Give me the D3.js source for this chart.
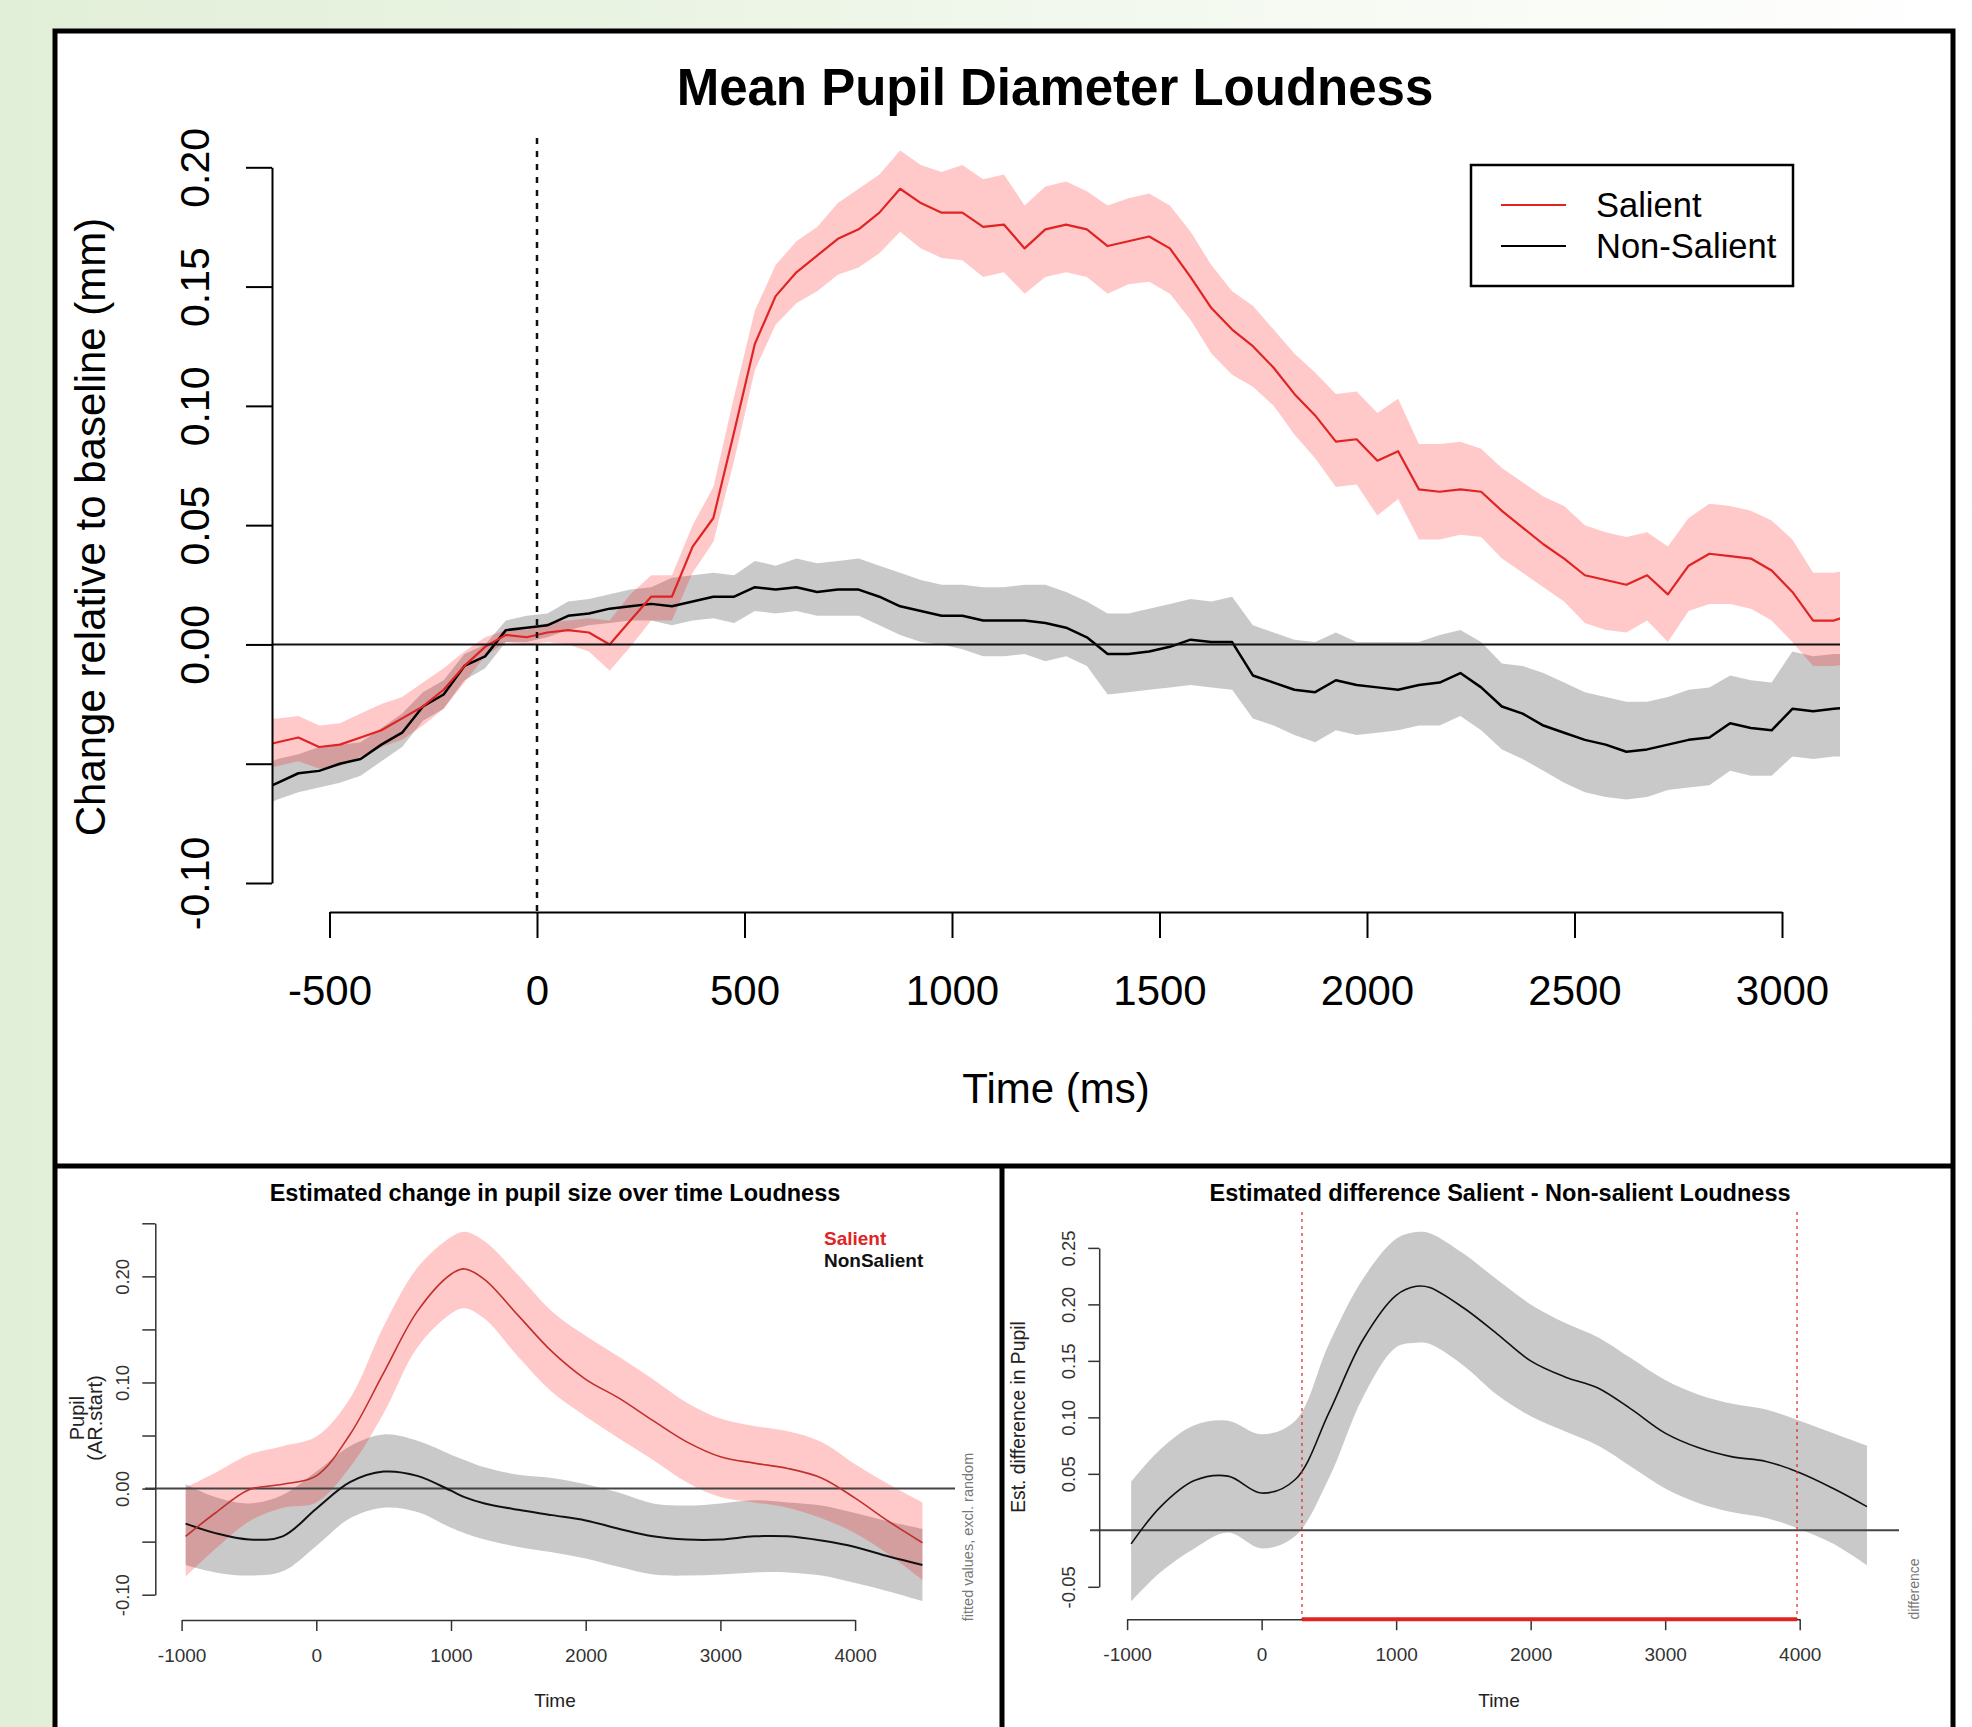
<!DOCTYPE html>
<html>
<head>
<meta charset="utf-8">
<script src="https://cdn.jsdelivr.net/npm/d3@7"></script>
<style>
  html, body { margin: 0; padding: 0; }
  body {
    width: 1972px; height: 1727px; overflow: hidden;
    background: linear-gradient(to right, #e2efd8 0%, #e9f3e2 30%, #f4f9f0 60%, #ffffff 100%);
  }
  svg { display: block; font-family: "Liberation Sans", Arial, Helvetica, sans-serif; }
</style>
</head>
<body>
<svg id="fig" width="1972" height="1727"></svg>
<script>
// ---------- top panel: mean pupil traces (mm), sampled every 50 ms ----------
// first and last samples sit just outside the visible window (clipped)
const topTime = [-650].concat(d3.range(-625, 3126, 50), [3175]);
const salientMean = [-0.042,
  -0.041, -0.039, -0.043, -0.042, -0.039, -0.036, -0.031, -0.026, -0.019, -0.009, -0.001, 0.004, 0.003, 0.005, 0.006, 0.005, 0.000, 0.010, 0.020,
  0.020, 0.041, 0.053, 0.089, 0.126, 0.146, 0.156, 0.163, 0.170, 0.174, 0.181, 0.191, 0.185, 0.181, 0.181, 0.175, 0.176, 0.166, 0.174,
  0.176, 0.174, 0.167, 0.169, 0.171, 0.166, 0.154, 0.141, 0.132, 0.125, 0.116, 0.105, 0.096, 0.085, 0.086, 0.077, 0.081, 0.065, 0.064,
  0.065, 0.064, 0.056, 0.049, 0.042, 0.036, 0.029, 0.027, 0.025, 0.029, 0.021, 0.033, 0.038, 0.037, 0.036, 0.031, 0.022, 0.010, 0.010,
  0.013];
const salientHi = [-0.031,
  -0.031, -0.030, -0.034, -0.033, -0.029, -0.025, -0.022, -0.016, -0.010, -0.003, 0.003, 0.006, 0.006, 0.009, 0.010, 0.011, 0.010, 0.021, 0.029,
  0.029, 0.050, 0.066, 0.104, 0.140, 0.159, 0.169, 0.175, 0.185, 0.191, 0.197, 0.207, 0.201, 0.198, 0.201, 0.195, 0.197, 0.184, 0.192,
  0.194, 0.190, 0.184, 0.187, 0.189, 0.184, 0.173, 0.159, 0.148, 0.142, 0.132, 0.122, 0.114, 0.105, 0.106, 0.097, 0.103, 0.084, 0.084,
  0.085, 0.082, 0.074, 0.068, 0.062, 0.058, 0.050, 0.047, 0.045, 0.047, 0.041, 0.053, 0.059, 0.058, 0.056, 0.052, 0.044, 0.030, 0.030,
  0.032];
const salientLo = [-0.052,
  -0.051, -0.049, -0.052, -0.051, -0.047, -0.043, -0.040, -0.034, -0.027, -0.016, -0.005, 0.001, 0.000, 0.001, 0.000, -0.003, -0.011, -0.001, 0.010,
  0.010, 0.030, 0.043, 0.077, 0.115, 0.134, 0.143, 0.148, 0.155, 0.158, 0.164, 0.173, 0.166, 0.162, 0.161, 0.154, 0.156, 0.147, 0.154,
  0.156, 0.154, 0.147, 0.151, 0.152, 0.147, 0.136, 0.122, 0.113, 0.108, 0.100, 0.088, 0.078, 0.066, 0.067, 0.054, 0.061, 0.044, 0.044,
  0.046, 0.045, 0.036, 0.030, 0.024, 0.018, 0.009, 0.006, 0.005, 0.010, 0.001, 0.014, 0.017, 0.017, 0.015, 0.010, 0.001, -0.009, -0.009,
  -0.008];
const nonSalientMean = [-0.060,
  -0.058, -0.054, -0.053, -0.050, -0.048, -0.042, -0.037, -0.026, -0.021, -0.009, -0.005, 0.006, 0.007, 0.008, 0.012, 0.013, 0.015, 0.016, 0.017,
  0.016, 0.018, 0.020, 0.020, 0.024, 0.023, 0.024, 0.022, 0.023, 0.023, 0.020, 0.016, 0.014, 0.012, 0.012, 0.010, 0.010, 0.010, 0.009,
  0.007, 0.003, -0.004, -0.004, -0.003, -0.001, 0.002, 0.001, 0.001, -0.013, -0.016, -0.019, -0.020, -0.015, -0.017, -0.018, -0.019, -0.017, -0.016,
  -0.012, -0.018, -0.026, -0.029, -0.034, -0.037, -0.040, -0.042, -0.045, -0.044, -0.042, -0.040, -0.039, -0.033, -0.035, -0.036, -0.027, -0.028, -0.027,
  -0.026];
const nonSalientHi = [-0.050,
  -0.048, -0.046, -0.043, -0.042, -0.041, -0.035, -0.029, -0.020, -0.015, -0.004, 0.000, 0.010, 0.012, 0.013, 0.018, 0.019, 0.021, 0.023, 0.024,
  0.028, 0.029, 0.030, 0.029, 0.035, 0.033, 0.036, 0.034, 0.035, 0.036, 0.033, 0.030, 0.027, 0.025, 0.025, 0.024, 0.024, 0.025, 0.025,
  0.022, 0.018, 0.013, 0.013, 0.015, 0.017, 0.019, 0.018, 0.020, 0.008, 0.005, 0.002, 0.001, 0.005, 0.001, 0.001, 0.001, 0.001, 0.004,
  0.006, 0.001, -0.008, -0.009, -0.012, -0.016, -0.020, -0.022, -0.024, -0.024, -0.022, -0.019, -0.018, -0.013, -0.015, -0.016, -0.003, -0.005, -0.004,
  -0.004];
const nonSalientLo = [-0.067,
  -0.065, -0.062, -0.060, -0.058, -0.055, -0.049, -0.043, -0.032, -0.027, -0.015, -0.010, 0.001, 0.001, 0.003, 0.006, 0.008, 0.009, 0.010, 0.010,
  0.008, 0.010, 0.011, 0.009, 0.014, 0.013, 0.014, 0.012, 0.012, 0.012, 0.008, 0.004, 0.001, 0.000, -0.002, -0.005, -0.005, -0.004, -0.007,
  -0.005, -0.009, -0.021, -0.020, -0.019, -0.018, -0.017, -0.018, -0.019, -0.031, -0.034, -0.038, -0.041, -0.036, -0.038, -0.037, -0.036, -0.034, -0.034,
  -0.030, -0.036, -0.044, -0.048, -0.053, -0.058, -0.062, -0.064, -0.065, -0.064, -0.061, -0.060, -0.059, -0.053, -0.055, -0.055, -0.047, -0.048, -0.047,
  -0.047];
const topXTicks = [-500, 0, 500, 1000, 1500, 2000, 2500, 3000];
const topYTicks = [-0.10, -0.05, 0.00, 0.05, 0.10, 0.15, 0.20];
const topYLabelled = [-0.10, 0.00, 0.05, 0.10, 0.15, 0.20];
const legendLabels = ["Salient", "Non-Salient"];

// ---------- bottom left: GAM fitted curves ----------
const gamTime = [-970, -750, -500, -250, 0, 250, 500, 750, 1000, 1100, 1250, 1500, 1750, 2000, 2250, 2500, 2750, 3000, 3250, 3500, 3750, 4000, 4250, 4500];
const gamSalient   = [-0.045, -0.023, -0.001, 0.004, 0.012, 0.051, 0.109, 0.167, 0.202, 0.207, 0.197, 0.163, 0.129, 0.103, 0.085, 0.064, 0.044, 0.030, 0.024, 0.019, 0.010, -0.009, -0.031, -0.051];
const gamSalientHi = [0.001, 0.015, 0.032, 0.040, 0.049, 0.085, 0.153, 0.208, 0.237, 0.242, 0.233, 0.201, 0.167, 0.144, 0.124, 0.103, 0.081, 0.066, 0.059, 0.054, 0.044, 0.023, 0.004, -0.013];
const gamSalientLo = [-0.083, -0.057, -0.031, -0.018, -0.013, 0.020, 0.071, 0.133, 0.165, 0.170, 0.160, 0.124, 0.091, 0.068, 0.047, 0.027, 0.006, -0.008, -0.013, -0.018, -0.028, -0.042, -0.062, -0.086];
const gamNon   = [-0.033, -0.042, -0.048, -0.045, -0.019, 0.006, 0.016, 0.012, -0.002, -0.008, -0.014, -0.020, -0.025, -0.030, -0.038, -0.045, -0.048, -0.048, -0.045, -0.045, -0.049, -0.055, -0.064, -0.072];
const gamNonHi = [0.004, -0.008, -0.014, -0.006, 0.016, 0.040, 0.051, 0.045, 0.032, 0.027, 0.020, 0.013, 0.010, 0.004, -0.004, -0.014, -0.016, -0.014, -0.011, -0.013, -0.016, -0.023, -0.031, -0.038];
const gamNonLo = [-0.072, -0.079, -0.082, -0.078, -0.054, -0.028, -0.018, -0.022, -0.037, -0.042, -0.048, -0.055, -0.060, -0.066, -0.074, -0.081, -0.082, -0.081, -0.079, -0.079, -0.082, -0.089, -0.097, -0.106];
const gamXTicks = [-1000, 0, 1000, 2000, 3000, 4000];
const gamYTicks = [-0.10, -0.05, 0.00, 0.05, 0.10, 0.15, 0.20, 0.25];
const gamYLabelled = [-0.10, 0.00, 0.10, 0.20];

// ---------- bottom right: estimated difference ----------
const diffTime = [-970, -750, -500, -250, 0, 250, 500, 750, 1000, 1150, 1250, 1500, 1750, 2000, 2250, 2500, 2750, 3000, 3250, 3500, 3750, 4000, 4250, 4500];
const diffMean = [-0.012, 0.021, 0.044, 0.048, 0.033, 0.045, 0.104, 0.168, 0.208, 0.216, 0.215, 0.197, 0.174, 0.150, 0.136, 0.126, 0.107, 0.086, 0.073, 0.065, 0.061, 0.051, 0.037, 0.021];
const diffHi   = [0.043, 0.072, 0.093, 0.097, 0.085, 0.097, 0.165, 0.222, 0.258, 0.264, 0.263, 0.245, 0.222, 0.200, 0.184, 0.171, 0.152, 0.133, 0.120, 0.112, 0.107, 0.097, 0.086, 0.075];
const diffLo   = [-0.063, -0.037, -0.016, -0.002, -0.016, -0.005, 0.046, 0.117, 0.162, 0.166, 0.165, 0.146, 0.120, 0.101, 0.088, 0.075, 0.056, 0.037, 0.024, 0.016, 0.011, 0.001, -0.012, -0.031];
const sigWindow = [300, 3980];
const diffYTicks = [-0.05, 0.05, 0.10, 0.15, 0.20, 0.25];

// ---------- helpers ----------
const RED = "#e02424";
const inList = (list, v) => list.some(u => Math.abs(u - v) < 1e-9);

const bandPath = (x, y, t, lo, hi, curve) => d3.area()
  .x((d, i) => x(t[i])).y0((d, i) => y(lo[i])).y1((d, i) => y(hi[i]))
  .curve(curve)(t);
const linePath = (x, y, t, v, curve) => d3.line()
  .x((d, i) => x(t[i])).y((d, i) => y(v[i]))
  .curve(curve)(t);

function styleAxis(g, size, color, width) {
  g.attr("font-family", null).attr("font-size", size).attr("color", color);
  g.selectAll("path.domain, .tick line").attr("stroke-width", width);
}
function rotateYLabels(g, dist) {
  g.selectAll(".tick text")
    .attr("transform", "rotate(-90)")
    .attr("x", 0).attr("y", -dist).attr("dy", 0)
    .attr("text-anchor", "middle");
}

const svg = d3.select("#fig");

// frame
svg.append("rect").attr("x", 55).attr("y", 31).attr("width", 1898).attr("height", 1760)
  .attr("fill", "#fff").attr("stroke", "#000").attr("stroke-width", 5);

// ================= TOP PANEL =================
const plotTop = { left: 272, right: 1840, top: 138, bottom: 912 };
const xTop = d3.scaleLinear().domain([-500, 3000]).range([329.5, 1782]);
const yTop = d3.scaleLinear().domain([-0.1, 0.2]).range([883, 167.3]);

svg.append("clipPath").attr("id", "clipTop").append("rect")
  .attr("x", plotTop.left).attr("y", plotTop.top)
  .attr("width", plotTop.right - plotTop.left).attr("height", plotTop.bottom - plotTop.top);

const gTop = svg.append("g").attr("clip-path", "url(#clipTop)");
gTop.append("path").attr("d", bandPath(xTop, yTop, topTime, nonSalientLo, nonSalientHi, d3.curveLinear))
  .attr("fill", "#000").attr("fill-opacity", 0.21);
gTop.append("path").attr("d", bandPath(xTop, yTop, topTime, salientLo, salientHi, d3.curveLinear))
  .attr("fill", "#ff0000").attr("fill-opacity", 0.21);

// zero line and stimulus onset
svg.append("line").attr("x1", plotTop.left).attr("x2", plotTop.right)
  .attr("y1", yTop(0)).attr("y2", yTop(0)).attr("stroke", "#111").attr("stroke-width", 2);
svg.append("line").attr("x1", xTop(0)).attr("x2", xTop(0))
  .attr("y1", plotTop.top).attr("y2", plotTop.bottom)
  .attr("stroke", "#111").attr("stroke-width", 2.5).attr("stroke-dasharray", "6,7");

gTop.append("path").attr("d", linePath(xTop, yTop, topTime, nonSalientMean, d3.curveLinear))
  .attr("fill", "none").attr("stroke", "#000").attr("stroke-width", 2.5).attr("stroke-linejoin", "round");
gTop.append("path").attr("d", linePath(xTop, yTop, topTime, salientMean, d3.curveLinear))
  .attr("fill", "none").attr("stroke", RED).attr("stroke-width", 2.2).attr("stroke-linejoin", "round");

svg.append("g").attr("transform", `translate(${plotTop.left},0)`)
  .call(d3.axisLeft(yTop).tickValues(topYTicks).tickSize(26).tickSizeOuter(0)
    .tickFormat(d => inList(topYLabelled, d) ? d.toFixed(2) : ""))
  .call(g => styleAxis(g, 41, "#000", 2))
  .call(g => rotateYLabels(g, 63));

svg.append("g").attr("transform", `translate(0,${plotTop.bottom})`)
  .call(d3.axisBottom(xTop).tickValues(topXTicks).tickSize(26).tickSizeOuter(0).tickFormat(d => String(d)))
  .call(g => styleAxis(g, 42, "#000", 2))
  .call(g => g.selectAll(".tick text").attr("y", 78).attr("dy", "0.35em"));

svg.append("text").attr("x", 1055).attr("y", 105).attr("text-anchor", "middle")
  .attr("font-size", 51).attr("font-weight", "bold").text("Mean Pupil Diameter Loudness");
svg.append("text").attr("transform", "translate(105,527) rotate(-90)").attr("text-anchor", "middle")
  .attr("font-size", 42).text("Change relative to baseline (mm)");
svg.append("text").attr("x", 1056).attr("y", 1103).attr("text-anchor", "middle")
  .attr("font-size", 42).text("Time (ms)");

// legend
const legend = svg.append("g");
legend.append("rect").attr("x", 1471).attr("y", 165).attr("width", 322).attr("height", 121)
  .attr("fill", "#fff").attr("stroke", "#000").attr("stroke-width", 2.5);
legend.selectAll("line.key").data(legendLabels).join("line").attr("class", "key")
  .attr("x1", 1501).attr("x2", 1566)
  .attr("y1", (d, i) => 205 + i * 41).attr("y2", (d, i) => 205 + i * 41)
  .attr("stroke", (d, i) => i === 0 ? RED : "#000").attr("stroke-width", 2.2);
legend.selectAll("text").data(legendLabels).join("text")
  .attr("x", 1596).attr("y", (d, i) => 205 + i * 41).attr("dy", "0.36em")
  .attr("font-size", 34.5).text(d => d);

// panel dividers
svg.append("line").attr("x1", 55).attr("x2", 1953).attr("y1", 1166).attr("y2", 1166)
  .attr("stroke", "#000").attr("stroke-width", 5);
svg.append("line").attr("x1", 1002).attr("x2", 1002).attr("y1", 1166).attr("y2", 1727)
  .attr("stroke", "#000").attr("stroke-width", 5);

// ================= BOTTOM LEFT =================
const xL = d3.scaleLinear().domain([-1000, 4000]).range([181.6, 855.1]);
const yL = d3.scaleLinear().domain([-0.1, 0.25]).range([1594.7, 1223.3]);
const smooth = d3.curveCatmullRom.alpha(0.5);

svg.append("path").attr("d", bandPath(xL, yL, gamTime, gamNonLo, gamNonHi, smooth))
  .attr("fill", "#000").attr("fill-opacity", 0.21);
svg.append("path").attr("d", bandPath(xL, yL, gamTime, gamSalientLo, gamSalientHi, smooth))
  .attr("fill", "#ff0000").attr("fill-opacity", 0.21);
svg.append("line").attr("x1", 145).attr("x2", 955).attr("y1", yL(0)).attr("y2", yL(0))
  .attr("stroke", "#444").attr("stroke-width", 2);
svg.append("path").attr("d", linePath(xL, yL, gamTime, gamNon, smooth))
  .attr("fill", "none").attr("stroke", "#111").attr("stroke-width", 2);
svg.append("path").attr("d", linePath(xL, yL, gamTime, gamSalient, smooth))
  .attr("fill", "none").attr("stroke", "#c0302c").attr("stroke-width", 1.6);

svg.append("g").attr("transform", "translate(155.3,0)")
  .call(d3.axisLeft(yL).tickValues(gamYTicks).tickSize(13).tickSizeOuter(0)
    .tickFormat(d => inList(gamYLabelled, d) ? d.toFixed(2) : ""))
  .call(g => styleAxis(g, 18.5, "#333", 1.5))
  .call(g => rotateYLabels(g, 26));
svg.append("g").attr("transform", "translate(0,1620)")
  .call(d3.axisBottom(xL).tickValues(gamXTicks).tickSize(11).tickSizeOuter(0).tickFormat(d => String(d)))
  .call(g => styleAxis(g, 19, "#333", 1.5))
  .call(g => g.selectAll(".tick text").attr("y", 35).attr("dy", "0.35em"));

svg.append("text").attr("x", 555).attr("y", 1201).attr("text-anchor", "middle")
  .attr("font-size", 23.5).attr("font-weight", "bold").text("Estimated change in pupil size over time Loudness");
svg.append("text").attr("x", 555).attr("y", 1707).attr("text-anchor", "middle")
  .attr("font-size", 19).attr("fill", "#222").text("Time");
svg.append("text").attr("transform", "translate(84,1418) rotate(-90)").attr("text-anchor", "middle")
  .attr("font-size", 20).attr("fill", "#222").text("Pupil");
svg.append("text").attr("transform", "translate(102,1418) rotate(-90)").attr("text-anchor", "middle")
  .attr("font-size", 20).attr("fill", "#222").text("(AR.start)");
svg.append("text").attr("transform", "translate(973,1537) rotate(-90)").attr("text-anchor", "middle")
  .attr("font-size", 14.5).attr("fill", "#777").text("fitted values, excl. random");
svg.append("text").attr("x", 824).attr("y", 1238).attr("dy", "0.36em")
  .attr("font-size", 19).attr("font-weight", "bold").attr("fill", RED).text("Salient");
svg.append("text").attr("x", 824).attr("y", 1260).attr("dy", "0.36em")
  .attr("font-size", 19).attr("font-weight", "bold").attr("fill", "#111").text("NonSalient");

// ================= BOTTOM RIGHT =================
const xR = d3.scaleLinear().domain([-1000, 4000]).range([1127.1, 1799.7]);
const yR = d3.scaleLinear().domain([-0.05, 0.25]).range([1586.8, 1247.9]);

svg.append("path").attr("d", bandPath(xR, yR, diffTime, diffLo, diffHi, smooth))
  .attr("fill", "#000").attr("fill-opacity", 0.21);
svg.append("line").attr("x1", 1090).attr("x2", 1899).attr("y1", yR(0)).attr("y2", yR(0))
  .attr("stroke", "#444").attr("stroke-width", 2);
svg.append("path").attr("d", linePath(xR, yR, diffTime, diffMean, smooth))
  .attr("fill", "none").attr("stroke", "#111").attr("stroke-width", 1.6);

svg.selectAll("line.sig").data(sigWindow).join("line").attr("class", "sig")
  .attr("x1", d => xR(d)).attr("x2", d => xR(d)).attr("y1", 1212).attr("y2", 1619)
  .attr("stroke", RED).attr("stroke-width", 1.2).attr("stroke-dasharray", "3,4");

svg.append("g").attr("transform", "translate(1099.2,0)")
  .call(d3.axisLeft(yR).tickValues(diffYTicks).tickSize(11).tickSizeOuter(0).tickFormat(d => d.toFixed(2)))
  .call(g => styleAxis(g, 18.5, "#333", 1.5))
  .call(g => rotateYLabels(g, 24.5));
svg.append("g").attr("transform", "translate(0,1619.2)")
  .call(d3.axisBottom(xR).tickValues(gamXTicks).tickSize(11).tickSizeOuter(0).tickFormat(d => String(d)))
  .call(g => styleAxis(g, 19, "#333", 1.5))
  .call(g => g.selectAll(".tick text").attr("y", 35.5).attr("dy", "0.35em"));

svg.append("line").attr("x1", xR(sigWindow[0])).attr("x2", xR(sigWindow[1]))
  .attr("y1", 1619.2).attr("y2", 1619.2).attr("stroke", RED).attr("stroke-width", 4);

svg.append("text").attr("x", 1500).attr("y", 1201).attr("text-anchor", "middle")
  .attr("font-size", 23.5).attr("font-weight", "bold").text("Estimated difference Salient - Non-salient Loudness");
svg.append("text").attr("x", 1499).attr("y", 1707).attr("text-anchor", "middle")
  .attr("font-size", 19).attr("fill", "#222").text("Time");
svg.append("text").attr("transform", "translate(1025,1417) rotate(-90)").attr("text-anchor", "middle")
  .attr("font-size", 19.3).attr("fill", "#222").text("Est. difference in Pupil");
svg.append("text").attr("transform", "translate(1919,1589) rotate(-90)").attr("text-anchor", "middle")
  .attr("font-size", 14).attr("fill", "#777").text("difference");
</script>
</body>
</html>
